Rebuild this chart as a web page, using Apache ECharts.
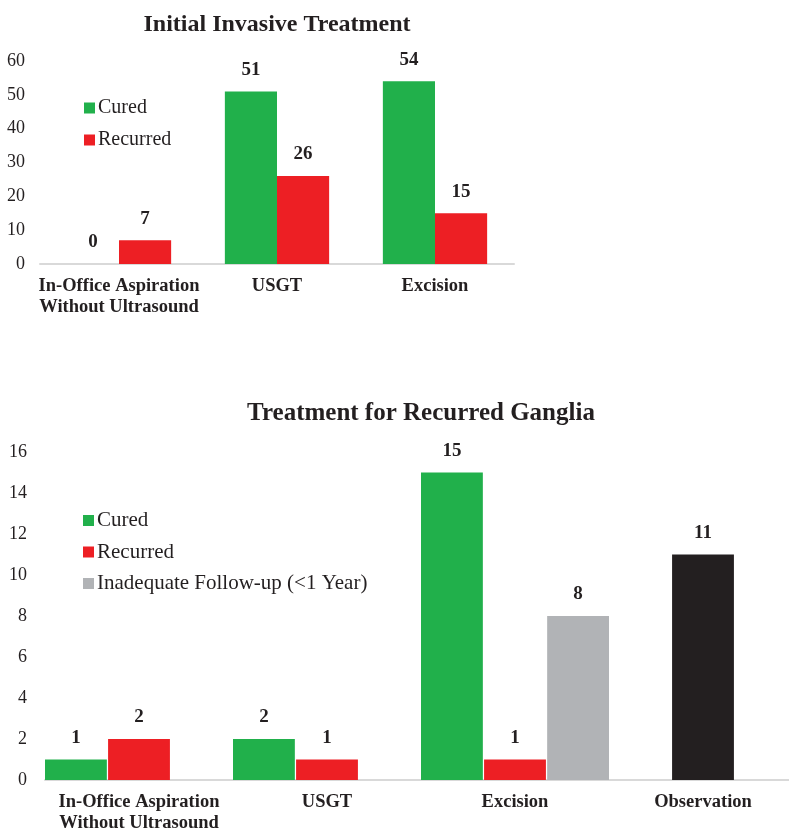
<!DOCTYPE html>
<html>
<head>
<meta charset="utf-8">
<script src="https://cdn.jsdelivr.net/npm/echarts@6/dist/echarts.min.js"></script>
<style>
  html, body { margin: 0; padding: 0; background: #fff; }
  #chart { width: 789px; height: 833px; }
</style>
</head>
<body>
<div id="chart"></div>
<script>
const topCategories = ["In-Office Aspiration\nWithout Ultrasound", "USGT", "Excision"];
const topCured = [0, 51, 54];
const topRecurred = [7, 26, 15];

const bottomCategories = ["In-Office Aspiration\nWithout Ultrasound", "USGT", "Excision", "Observation"];
const bottomCured = [1, 2, 15, "-"];
const bottomRecurred = [2, 1, 1, 11];
const bottomInadequate = ["-", "-", 8, "-"];
// Observation is drawn in the middle slot, in black
const observationIndex = 3;

const chart = echarts.init(document.getElementById("chart"));

const ink = "#231f20";
const green = "#21b04b";
const red = "#ed1f24";
const gray = "#b1b3b6";
const serif = "'Liberation Serif', 'Times New Roman', serif";

const barLabel = {
  show: true,
  position: "top",
  distance: 12,
  color: ink,
  fontFamily: serif,
  fontWeight: "bold",
  fontSize: 19
};

function xAxis(gridIndex, data) {
  return {
    type: "category",
    gridIndex: gridIndex,
    data: data,
    axisLine: { lineStyle: { color: "#d9d9d9", width: 2 } },
    axisTick: { show: false },
    axisLabel: {
      color: ink,
      fontFamily: serif,
      fontWeight: "bold",
      fontSize: 18.5,
      lineHeight: 21,
      margin: 12,
      interval: 0
    }
  };
}

function yAxis(gridIndex, max, interval, margin) {
  return {
    type: "value",
    gridIndex: gridIndex,
    min: 0,
    max: max,
    interval: interval,
    splitLine: { show: false },
    axisLine: { show: false },
    axisTick: { show: false },
    axisLabel: { color: ink, fontFamily: serif, fontSize: 18, margin: margin }
  };
}

const option = {
  backgroundColor: "#fff",
  animation: false,
  title: [
    {
      text: "Initial Invasive Treatment",
      left: 272,
      top: 8,
      textAlign: "center",
      textStyle: { color: ink, fontFamily: serif, fontWeight: "bold", fontSize: 24 }
    },
    {
      text: "Treatment for Recurred Ganglia",
      left: 416,
      top: 396,
      textAlign: "center",
      textStyle: { color: ink, fontFamily: serif, fontWeight: "bold", fontSize: 25 }
    }
  ],
  legend: [
    {
      data: ["Cured", "Recurred"],
      orient: "vertical",
      left: 84,
      top: 98,
      padding: 0,
      itemWidth: 11,
      itemHeight: 11,
      itemGap: 12,
      icon: "rect",
      textStyle: { color: ink, fontFamily: serif, fontSize: 20, padding: [0, 0, 0, -2] }
    },
    {
      data: ["Cured", "Recurred", "Inadequate Follow-up (<1 Year)"],
      orient: "vertical",
      left: 83,
      top: 510,
      padding: 0,
      itemWidth: 11,
      itemHeight: 11,
      itemGap: 10.5,
      icon: "rect",
      textStyle: { color: ink, fontFamily: serif, fontSize: 21, padding: [0, 0, 0, -2] }
    }
  ],
  grid: [
    { left: 40, top: 61, width: 474, height: 203, outerBoundsMode: "none" },
    { left: 45, top: 452, width: 752, height: 328, outerBoundsMode: "none" }
  ],
  xAxis: [xAxis(0, topCategories), xAxis(1, bottomCategories)],
  yAxis: [yAxis(0, 60, 10, 15), yAxis(1, 16, 2, 18)],
  series: [
    {
      name: "Cured",
      type: "bar",
      xAxisIndex: 0,
      yAxisIndex: 0,
      data: topCured,
      itemStyle: { color: green },
      barGap: "0%",
      barCategoryGap: "34%",
      label: barLabel
    },
    {
      name: "Recurred",
      type: "bar",
      xAxisIndex: 0,
      yAxisIndex: 0,
      data: topRecurred,
      itemStyle: { color: red },
      label: barLabel
    },
    {
      name: "Cured",
      type: "bar",
      xAxisIndex: 1,
      yAxisIndex: 1,
      data: bottomCured,
      itemStyle: { color: green },
      barGap: "2%",
      barCategoryGap: "0%",
      label: barLabel
    },
    {
      name: "Recurred",
      type: "bar",
      xAxisIndex: 1,
      yAxisIndex: 1,
      data: bottomRecurred.map((v, i) =>
        i === observationIndex ? { value: v, itemStyle: { color: ink } } : v
      ),
      itemStyle: { color: red },
      label: barLabel
    },
    {
      name: "Inadequate Follow-up (<1 Year)",
      type: "bar",
      xAxisIndex: 1,
      yAxisIndex: 1,
      data: bottomInadequate,
      itemStyle: { color: gray },
      label: barLabel
    }
  ]
};

chart.setOption(option);
</script>
</body>
</html>
